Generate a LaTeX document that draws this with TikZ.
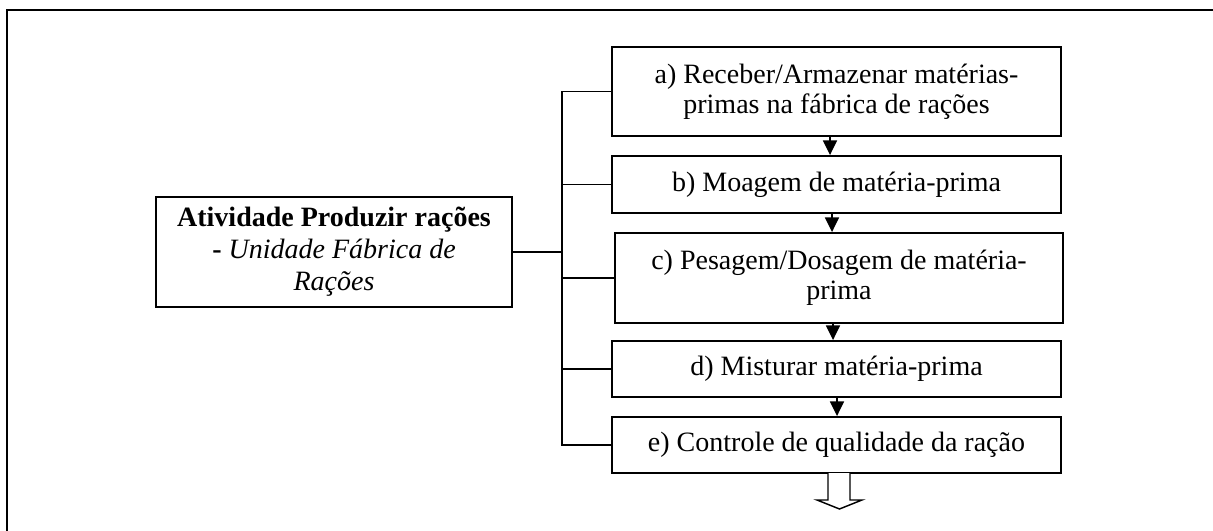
\documentclass[tikz,border=0pt]{standalone}
\usepackage{fontspec}
\setmainfont{Liberation Serif}
\usetikzlibrary{arrows.meta}
\begin{document}
\begin{tikzpicture}[x=0.75pt,y=-0.75pt,
  box/.style={draw,line width=1.4pt,inner sep=0pt,align=center,anchor=center,
    minimum width=336.75pt,
    font=\fontsize{21pt}{22.5pt}\selectfont},
  leftbox/.style={box,font=\fontsize{21pt}{24pt}\selectfont},
  conn/.style={line width=1.1pt},
  flow/.style={line width=1.1pt,-{Triangle[length=11pt,width=10.5pt]}},
  frame/.style={line width=1.5pt},
  blockarrow/.style={line width=1.1pt,fill=white,line join=miter}]
\useasboundingbox (0,0) rectangle (1213,531);
\draw[frame] (7,531) -- (7,10) -- (1213,10);
\node[box,minimum height=66.75pt] (a) at (836.5,91.5) {a) Receber/Armazenar matérias-\\primas na fábrica de rações};
\node[box,minimum height=42.75pt] (b) at (836.5,184.5) {b) Moagem de matéria-prima};
\node[box,minimum width=336pt,minimum height=67.5pt] (c) at (839,278) {c) Pesagem/Dosagem de matéria-\\prima};
\node[box,minimum height=42pt] (d) at (836.5,369) {d) Misturar matéria-prima};
\node[box,minimum height=42pt] (e) at (836.5,445) {e) Controle de qualidade da ração};
\node[leftbox,minimum width=267pt,minimum height=82.5pt] (L) at (334,252) {\textbf{Atividade Produzir rações}\\\textbf{-} \textit{Unidade Fábrica de}\\\textit{Rações}};
\coordinate (sp) at (562,0);
\coordinate (x1) at (830,0);
\coordinate (x2) at (832,0);
\coordinate (x3) at (833,0);
\coordinate (x4) at (837,0);
\draw[conn] (a.west) -- (a.west -| sp) -- (e.west -| sp) -- (e.west);
\draw[conn] (b.west) -- (b.west -| sp);
\draw[conn] (c.west) -- (c.west -| sp);
\draw[conn] (d.west) -- (d.west -| sp);
\draw[conn] (L.east) -- (L.east -| sp);
\draw[flow] (a.south -| x1) -- (b.north -| x1);
\draw[flow] (b.south -| x2) -- (c.north -| x2);
\draw[flow] (c.south -| x3) -- (d.north -| x3);
\draw[flow] (d.south -| x4) -- (e.north -| x4);
\draw[blockarrow] (828,473) -- (828,500) -- (817,500) -- (839.5,509) -- (862,500) -- (850,500) -- (850,473);
\end{tikzpicture}
\end{document}
